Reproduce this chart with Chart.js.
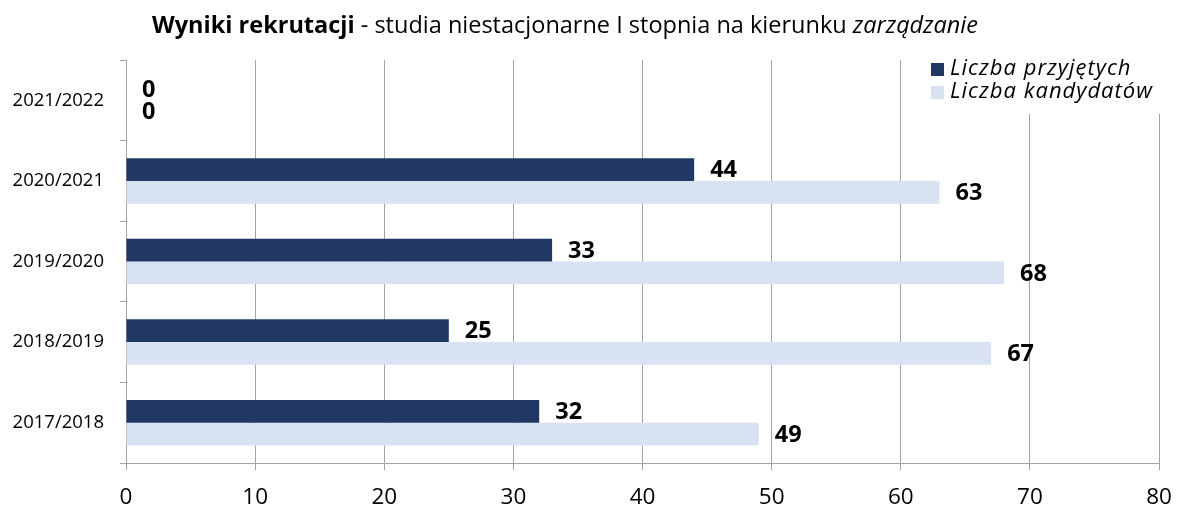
<!DOCTYPE html>
<html>
<head>
<meta charset="utf-8">
<script src="https://cdn.jsdelivr.net/npm/chart.js@4"></script>
<style>
  html, body { margin: 0; padding: 0; background: #fff; }
  #wrap { width: 1179px; height: 512px; }
</style>
</head>
<body>
<div id="wrap"><canvas id="recruitChart" width="1179" height="512"></canvas></div>
<script>
// years, top to bottom as in the picture
const years = ["2021/2022", "2020/2021", "2019/2020", "2018/2019", "2017/2018"];
const accepted = [0, 44, 33, 25, 32];
const candidates = [0, 63, 68, 67, 49];
const xTicks = [0, 10, 20, 30, 40, 50, 60, 70, 80];

const FONT = "'Open Sans', 'Liberation Sans', sans-serif";
const DARK = "#213864";
const LIGHT = "#d9e2f3";
const GRID = "#a3a3a3";

// title with mixed bold / normal / italic parts
const titlePlugin = {
  id: "mixedTitle",
  afterDraw(chart) {
    const c = chart.ctx;
    const parts = [
      { t: "Wyniki rekrutacji", f: "bold 23.5px " + FONT },
      { t: " - studia niestacjonarne I stopnia na kierunku ", f: "23.5px " + FONT },
      { t: "zarządzanie", f: "italic 23.5px " + FONT },
    ];
    c.save();
    let total = 0;
    parts.forEach(p => { c.font = p.f; p.w = c.measureText(p.t).width; total += p.w; });
    let x = 565 - total / 2;
    c.fillStyle = "#000";
    c.textBaseline = "alphabetic";
    parts.forEach(p => { c.font = p.f; c.fillText(p.t, x, 33); x += p.w; });
    c.restore();
  },
};

// legend box in the top right corner of the plot, white behind it
const legendPlugin = {
  id: "cornerLegend",
  afterDatasetsDraw(chart) {
    const c = chart.ctx;
    c.save();
    c.fillStyle = "#fff";
    c.fillRect(924, chart.chartArea.top, 240, 54);
    c.font = "italic 22px " + FONT;
    c.letterSpacing = "1px";
    c.textBaseline = "middle";
    chart.data.datasets.forEach((ds, i) => {
      const y = 69 + i * 23;
      c.fillStyle = ds.backgroundColor;
      c.fillRect(931, y - 6, 13, 13);
      c.fillStyle = "#000";
      c.fillText(ds.label, 950, y);
    });
    c.restore();
  },
};

// bold value labels right of each bar
const valuePlugin = {
  id: "barValues",
  afterDatasetsDraw(chart) {
    const c = chart.ctx;
    c.save();
    c.font = "bold 23.5px " + FONT;
    c.fillStyle = "#000";
    c.textBaseline = "middle";
    chart.data.datasets.forEach((ds, i) => {
      chart.getDatasetMeta(i).data.forEach((bar, j) => {
        c.fillText(String(ds.data[j]), bar.x + 16, bar.y + 1);
      });
    });
    c.restore();
  },
};

new Chart(document.getElementById("recruitChart"), {
  type: "bar",
  data: {
    labels: years,
    datasets: [
      { label: "Liczba przyjętych", data: accepted, backgroundColor: DARK },
      { label: "Liczba kandydatów", data: candidates, backgroundColor: LIGHT },
    ],
  },
  options: {
    indexAxis: "y",
    responsive: false,
    animation: false,
    maintainAspectRatio: false,
    categoryPercentage: 0.565,
    barPercentage: 1.0,
    layout: { padding: { top: 60, right: 20, left: 0, bottom: 0 } },
    plugins: {
      legend: { display: false },
      title: { display: false },
      tooltip: { enabled: false },
    },
    scales: {
      x: {
        min: 0,
        max: 80,
        afterBuildTicks(axis) { axis.ticks = xTicks.map(v => ({ value: v })); },
        afterFit(axis) {
          axis.height = 49;
          axis.paddingLeft = 0;
          axis.paddingRight = 0;
        },
        grid: { color: GRID, tickLength: 7, tickColor: GRID },
        border: { color: GRID },
        ticks: { color: "#000", padding: 14, font: { family: FONT, size: 22.5 } },
      },
      y: {
        afterFit(axis) { axis.width = 126; },
        grid: { drawOnChartArea: false, color: GRID, tickLength: 6, offset: true },
        border: { color: GRID },
        ticks: { color: "#000", padding: 16, font: { family: FONT, size: 18.5 } },
      },
    },
  },
  plugins: [valuePlugin, legendPlugin, titlePlugin],
});
</script>
</body>
</html>
